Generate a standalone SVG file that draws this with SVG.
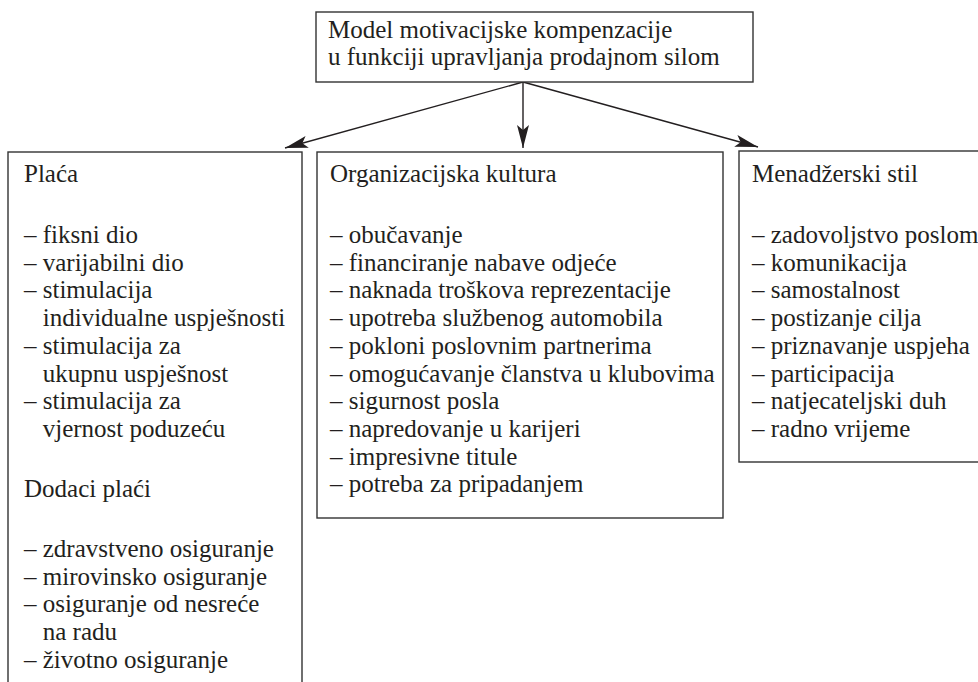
<svg xmlns="http://www.w3.org/2000/svg" width="978" height="682" viewBox="0 0 978 682">
  <style>
    .box { fill: #ffffff; stroke: #333333; stroke-width: 1.4; }
    .t { font-family: "Liberation Serif", "Times New Roman", serif; font-size: 25px; fill: #231f20; }
    .conn { fill: none; stroke: #231f20; stroke-width: 1.4; }
  </style>
  <defs>
    <marker id="arrow" viewBox="0 0 23 12" refX="23" refY="6" markerWidth="23" markerHeight="12" markerUnits="userSpaceOnUse" orient="auto">
      <path d="M0,0 L23,6 L0,12 L5,6 Z" fill="#231f20"/>
    </marker>
  </defs>
  <rect width="978" height="682" fill="#ffffff"/>

  <g id="connectors">
    <path class="conn" d="M523,82 L285,148" marker-end="url(#arrow)"/>
    <path class="conn" d="M523,82 L523,148" marker-end="url(#arrow)"/>
    <path class="conn" d="M523,82 L758,147" marker-end="url(#arrow)"/>
  </g>

  <g id="node-root">
    <rect class="box" x="316" y="12" width="437" height="70"/>
    <text class="t" x="328" y="38">Model motivacijske kompenzacije</text>
    <text class="t" x="328" y="65">u funkciji upravljanja prodajnom silom</text>
  </g>

  <g id="node-placa">
    <rect class="box" x="8" y="152" width="294" height="545"/>
    <text class="t" x="24" y="182">Plaća</text>
    <text class="t" x="24" y="243">– fiksni dio</text>
    <text class="t" x="24" y="270.7">– varijabilni dio</text>
    <text class="t" x="24" y="298.4">– stimulacija</text>
    <text class="t" x="42.75" y="326.1">individualne uspješnosti</text>
    <text class="t" x="24" y="353.8">– stimulacija za</text>
    <text class="t" x="42.75" y="381.5">ukupnu uspješnost</text>
    <text class="t" x="24" y="409.2">– stimulacija za</text>
    <text class="t" x="42.75" y="436.9">vjernost poduzeću</text>
    <text class="t" x="24" y="497">Dodaci plaći</text>
    <text class="t" x="24" y="557">– zdravstveno osiguranje</text>
    <text class="t" x="24" y="584.7">– mirovinsko osiguranje</text>
    <text class="t" x="24" y="612.4">– osiguranje od nesreće</text>
    <text class="t" x="42.75" y="640.1">na radu</text>
    <text class="t" x="24" y="667.8">– životno osiguranje</text>
  </g>

  <g id="node-kultura">
    <rect class="box" x="317" y="152" width="406" height="366"/>
    <text class="t" x="330" y="182">Organizacijska kultura</text>
    <text class="t" x="330" y="243">– obučavanje</text>
    <text class="t" x="330" y="270.7">– financiranje nabave odjeće</text>
    <text class="t" x="330" y="298.4">– naknada troškova reprezentacije</text>
    <text class="t" x="330" y="326.1">– upotreba službenog automobila</text>
    <text class="t" x="330" y="353.8">– pokloni poslovnim partnerima</text>
    <text class="t" x="330" y="381.5">– omogućavanje članstva u klubovima</text>
    <text class="t" x="330" y="409.2">– sigurnost posla</text>
    <text class="t" x="330" y="436.9">– napredovanje u karijeri</text>
    <text class="t" x="330" y="464.6">– impresivne titule</text>
    <text class="t" x="330" y="492.3">– potreba za pripadanjem</text>
  </g>

  <g id="node-stil">
    <rect class="box" x="739" y="151" width="260" height="311"/>
    <text class="t" x="752" y="182">Menadžerski stil</text>
    <text class="t" x="752" y="243">– zadovoljstvo poslom</text>
    <text class="t" x="752" y="270.7">– komunikacija</text>
    <text class="t" x="752" y="298.4">– samostalnost</text>
    <text class="t" x="752" y="326.1">– postizanje cilja</text>
    <text class="t" x="752" y="353.8">– priznavanje uspjeha</text>
    <text class="t" x="752" y="381.5">– participacija</text>
    <text class="t" x="752" y="409.2">– natjecateljski duh</text>
    <text class="t" x="752" y="436.9">– radno vrijeme</text>
  </g>
</svg>
